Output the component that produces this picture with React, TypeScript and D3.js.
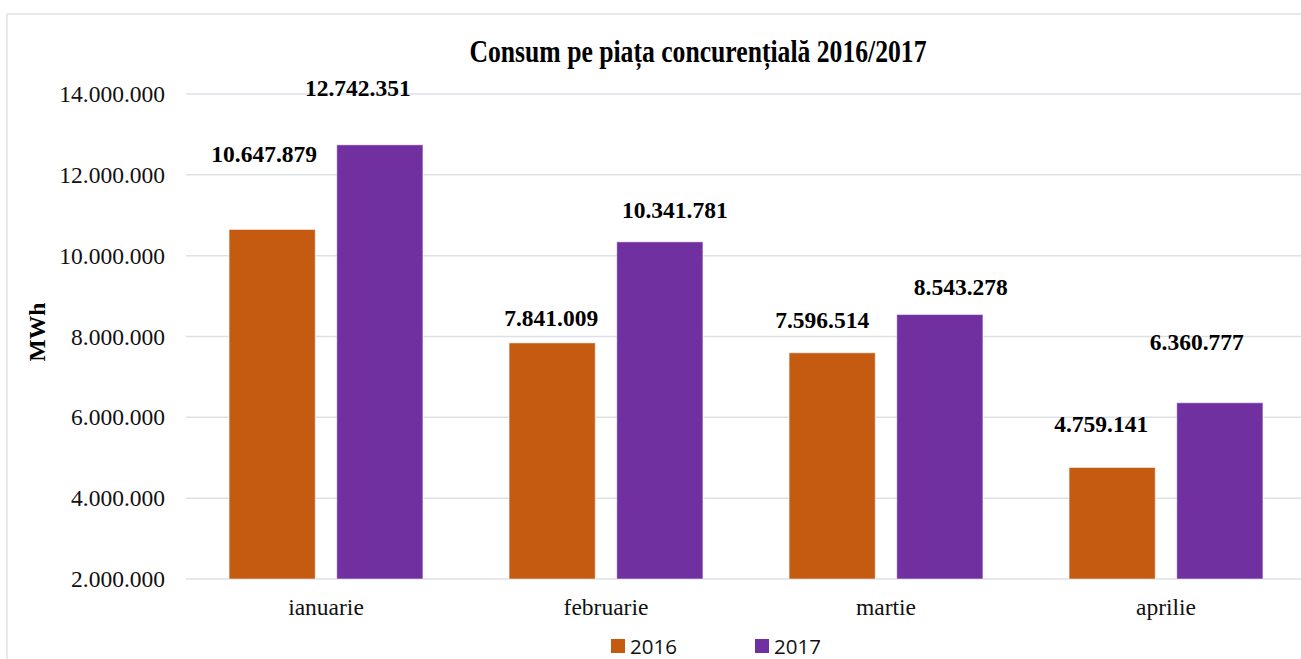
import React from 'react'
import * as d3 from 'd3'

// data
const months = ['ianuarie', 'februarie', 'martie', 'aprilie']
const years = ['2016', '2017']
const values2016 = [10647879, 7841009, 7596514, 4759141]
const values2017 = [12742351, 10341781, 8543278, 6360777]
const yTicks = [2000000, 4000000, 6000000, 8000000, 10000000, 12000000, 14000000]

// labels were dragged by hand in the original, nudges in px from bar top-center
const nudgeX = { '2016': [-8, -1, -10, -11], '2017': [-22, 15, 21, -23] }
const nudgeY = { '2016': [-67, -17, -25, -35], '2017': [-49, -24, -20, -53] }

const colors = { '2016': '#C55A11', '2017': '#7030A0' }
const W = 1301, H = 659
const serif = '"Liberation Serif", "Times New Roman", serif'
const sans = '"Open Sans", "Liberation Sans", sans-serif'

const fmt = (v: number) => d3.format(',')(v).replace(/,/g, '.')

export default function App() {
    const x0 = d3.scaleBand().domain(months).range([186, 1306])
    const x1 = d3.scaleBand().domain(years).range([0, x0.bandwidth()]).paddingInner(0.2).paddingOuter(0.4)
    const y = d3.scaleLinear().domain([2000000, 14000000]).range([579, 94])

    const series = years.map(yr => ({ key: yr, vals: yr === '2016' ? values2016 : values2017 }))

    return (
        <svg width={W} height={H} style={{ position: 'absolute', left: 0, top: 0, background: '#fff' }}>
            {/* frame */}
            <rect x={7} y={14} width={W + 20} height={H + 20} fill="none" stroke="#dfe3e8" strokeWidth={1.5} />

            <text x={698} y={62} textAnchor="middle" fontFamily={serif} fontWeight="bold" fontSize={31}
                textLength={457} lengthAdjust="spacingAndGlyphs">Consum pe piața concurențială 2016/2017</text>

            {/* grid + y labels */}
            {yTicks.map(t => (
                <g key={t}>
                    <line x1={186} x2={1306} y1={y(t)} y2={y(t)} stroke="#dde1e6" strokeWidth={1.5} />
                    <text x={165} y={y(t) + 8} textAnchor="end" fontFamily={serif} fontSize={23.5} fill="#111">{fmt(t)}</text>
                </g>
            ))}

            <text transform="translate(45,332) rotate(-90)" textAnchor="middle" fontFamily={serif}
                fontWeight="bold" fontSize={23.5}>MWh</text>

            {/* bars */}
            {series.map(s => s.vals.map((v, i) => (
                <rect key={s.key + i} x={x0(months[i])! + x1(s.key)!} y={y(v)} width={x1.bandwidth()}
                    height={y(2000000) - y(v)} fill={colors[s.key]} stroke="#fff" strokeOpacity={0.5} strokeWidth={1} />
            )))}

            {/* value labels */}
            {series.map(s => s.vals.map((v, i) => (
                <text key={'l' + s.key + i}
                    x={x0(months[i])! + x1(s.key)! + x1.bandwidth() / 2 + nudgeX[s.key][i]}
                    y={y(v) + nudgeY[s.key][i]}
                    textAnchor="middle" fontFamily={serif} fontWeight="bold" fontSize={23.5}>{fmt(v)}</text>
            )))}

            {/* category labels */}
            {months.map(m => (
                <text key={m} x={x0(m)! + x0.bandwidth() / 2} y={615} textAnchor="middle"
                    fontFamily={serif} fontSize={23.5} fill="#111">{m}</text>
            ))}

            {/* legend */}
            {years.map((yr, i) => (
                <g key={yr} transform={`translate(${611 + i * 144},639)`}>
                    <rect width={14} height={14} fill={colors[yr]} />
                    <text x={19} y={14.5} fontFamily={sans} fontSize={20.5} fill="#111">{yr}</text>
                </g>
            ))}
        </svg>
    )
}
